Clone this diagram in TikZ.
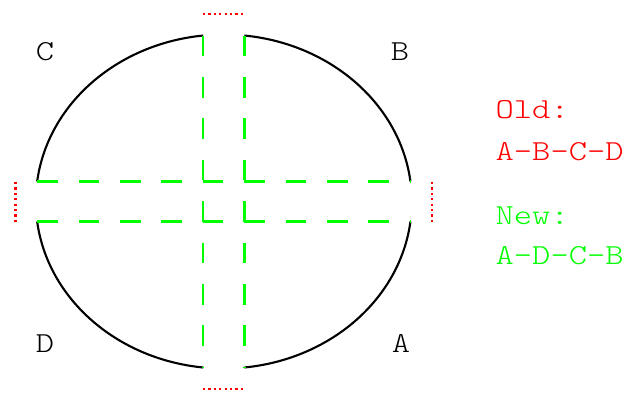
\documentclass[tikz,border=0pt]{standalone}
\usepackage{fontspec}
\usetikzlibrary{calc}
\newfontfamily\monofont[FakeStretch=1.2]{lmmonolt10-regular.otf}
\definecolor{myred}{RGB}{255,0,0}
\definecolor{mygreen}{RGB}{0,255,0}
\tikzset{
  rim/.style={line width=2.1pt, black},
  cross/.style={line width=2.3pt, mygreen, dash pattern=on 20.6pt off 20.8pt},
  gapmark/.style={line width=2.3pt, myred, dash pattern=on 2.2pt off 3.2pt},
  lbl/.style={font=\monofont\fontsize{29}{34}\selectfont, anchor=base, inner sep=0pt},
  legend/.style={font=\monofont\fontsize{29}{34}\selectfont, anchor=base west, inner sep=0pt},
}
\begin{document}
\begin{tikzpicture}[x=1pt,y=1pt]
\useasboundingbox (0,0) rectangle (628,-392);
\coordinate (O) at (223.8,-201.5);
\def\rx{188}\def\ry{167}
% gap end points on the ellipse
\coordinate (a1) at ($(O)+(6.878:\rx pt and \ry pt)$);
\coordinate (a2) at ($(O)+(83.706:\rx pt and \ry pt)$);
\coordinate (b1) at ($(O)+(96.294:\rx pt and \ry pt)$);
\coordinate (b2) at ($(O)+(173.122:\rx pt and \ry pt)$);
\coordinate (c1) at ($(O)+(186.878:\rx pt and \ry pt)$);
\coordinate (c2) at ($(O)+(263.706:\rx pt and \ry pt)$);
\coordinate (d1) at ($(O)+(276.294:\rx pt and \ry pt)$);
\coordinate (d2) at ($(O)+(353.122:\rx pt and \ry pt)$);
% arcs
\draw[rim] (a1) arc[start angle=6.878, end angle=83.706, x radius=\rx pt, y radius=\ry pt];
\draw[rim] (b1) arc[start angle=96.294, end angle=173.122, x radius=\rx pt, y radius=\ry pt];
\draw[rim] (c1) arc[start angle=186.878, end angle=263.706, x radius=\rx pt, y radius=\ry pt];
\draw[rim] (d1) arc[start angle=276.294, end angle=353.122, x radius=\rx pt, y radius=\ry pt];
% dashed cross
\draw[cross] (b1) -- (c2);
\draw[cross] (a2) -- (d1);
\draw[cross] (b2) -- (a1);
\draw[cross] (c1) -- (d2);
% red dotted gap marks
\draw[gapmark] (203,-14) -- (245,-14);
\draw[gapmark] (203,-389) -- (245,-389);
\draw[gapmark] (15.5,-182) -- (15.5,-224);
\draw[gapmark] (432,-182) -- (432,-224);
% labels
\node[lbl] (C) at (45,-60) {C};
\node[lbl] (B) at (400,-60) {B};
\node[lbl] (D) at (45,-352) {D};
\node[lbl] (A) at (401,-352) {A};
\node[legend, myred] (old) at (495.5,-118) {Old:};
\node[legend, myred] (oldseq) at (495.5,-160) {A-B-C-D};
\node[legend, mygreen] (new) at (495.5,-224) {New:};
\node[legend, mygreen] (newseq) at (495.5,-264) {A-D-C-B};
\end{tikzpicture}
\end{document}
